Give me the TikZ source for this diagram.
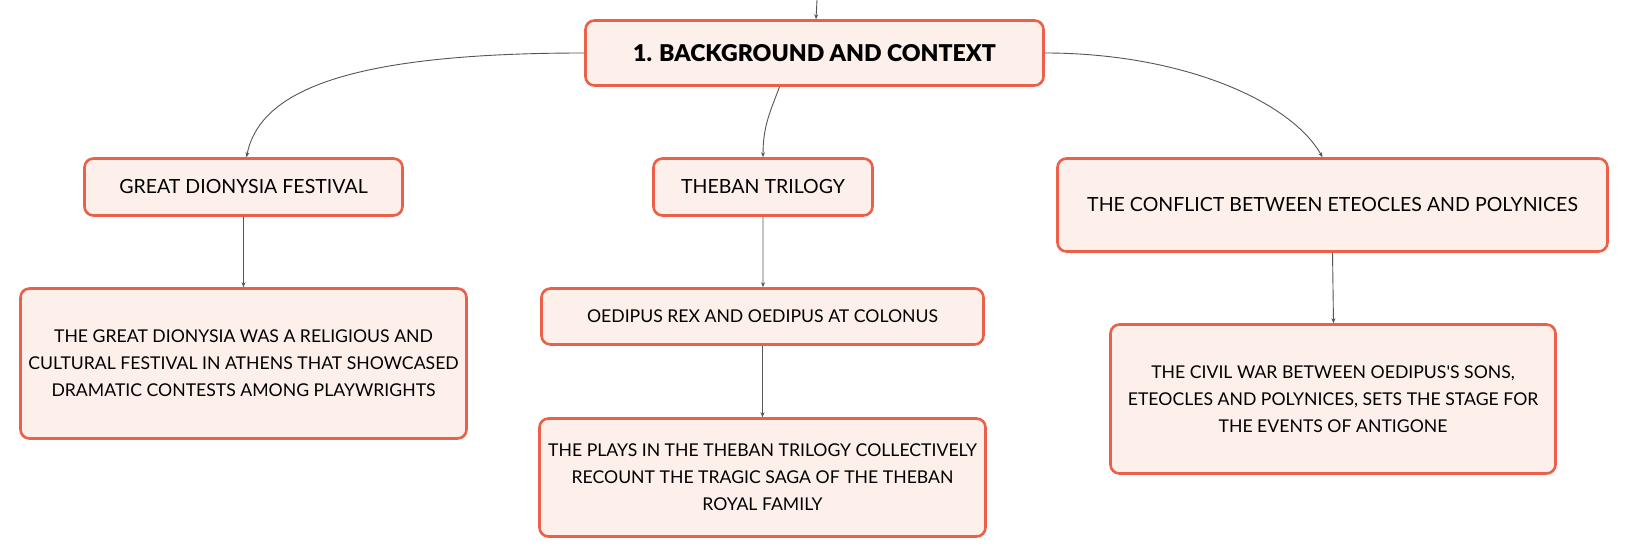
\documentclass[tikz,border=0pt]{standalone}
\usepackage{fontspec}
\setmainfont{Lato}
\newfontfamily\titlefont{Lato Black}
\usetikzlibrary{arrows.meta}
\definecolor{bordc}{HTML}{EC5F48}
\definecolor{fillc}{HTML}{FDF0EB}
\definecolor{linec}{HTML}{555555}
\begin{document}
\begin{tikzpicture}[x=1bp,y=-1bp,
  box/.style={draw=bordc, fill=fillc, line width=2.6bp, rounded corners=9bp, inner sep=0pt, align=center, text=black},
  lbl/.style={font=\fontsize{19.6}{23}\selectfont},
  desc/.style={font=\fontsize{17.7}{27}\selectfont},
  conn/.style={draw=linec, line width=0.9bp, -{Stealth[length=5bp,width=4bp]}}]
\fill[white] (0,0) rectangle (1631,559);
\useasboundingbox (0,0) rectangle (1631,559);
% nodes
\node[box, minimum width=458bp, minimum height=65bp, font=\fontsize{23.2}{28}\titlefont] (top) at (814.5,53) {1. BACKGROUND AND CONTEXT};
\node[box, lbl, minimum width=318bp, minimum height=57bp] (dion) at (243.5,187) {GREAT DIONYSIA FESTIVAL};
\node[box, lbl, minimum width=219bp, minimum height=57bp] (theb) at (763,187) {THEBAN TRILOGY};
\node[box, lbl, minimum width=550bp, minimum height=93bp] (conf) at (1332.5,205) {THE CONFLICT BETWEEN ETEOCLES AND POLYNICES};
\node[box, desc, minimum width=446bp, minimum height=150bp] (ddesc) at (243.5,363.5) {THE GREAT DIONYSIA WAS A RELIGIOUS AND\\CULTURAL FESTIVAL IN ATHENS THAT SHOWCASED\\DRAMATIC CONTESTS AMONG PLAYWRIGHTS};
\node[box, desc, minimum width=442bp, minimum height=56bp] (oed) at (762.5,316.5) {OEDIPUS REX AND OEDIPUS AT COLONUS};
\node[box, desc, minimum width=446bp, minimum height=118bp] (tdesc) at (762.5,477.5) {THE PLAYS IN THE THEBAN TRILOGY COLLECTIVELY\\RECOUNT THE TRAGIC SAGA OF THE THEBAN\\ROYAL FAMILY};
\node[box, desc, minimum width=445bp, minimum height=149bp] (cdesc) at (1333,399) {THE CIVIL WAR BETWEEN OEDIPUS\textquotesingle S SONS,\\ETEOCLES AND POLYNICES, SETS THE STAGE FOR\\THE EVENTS OF ANTIGONE};
% connectors
\coordinate (in) at (817,0);
\draw[conn] (in) -- ([xshift=1.5bp]top.north);
\draw[conn] (top.west) .. controls (350,53) and (260,90) .. ([xshift=3bp]dion.north);
\draw[conn] ([xshift=-35bp]top.south) .. controls (771,110) and (763,125) .. (theb.north);
\draw[conn] (top.east) .. controls (1180,53) and (1290,100) .. ([xshift=-10bp]conf.north);
\draw[conn] (dion.south) -- (ddesc.north);
\draw[conn] (theb.south) -- ([xshift=0.5bp]oed.north);
\draw[conn] (oed.south) -- (tdesc.north);
\draw[conn] (conf.south) -- ([xshift=0.5bp]cdesc.north);
\end{tikzpicture}
\end{document}
